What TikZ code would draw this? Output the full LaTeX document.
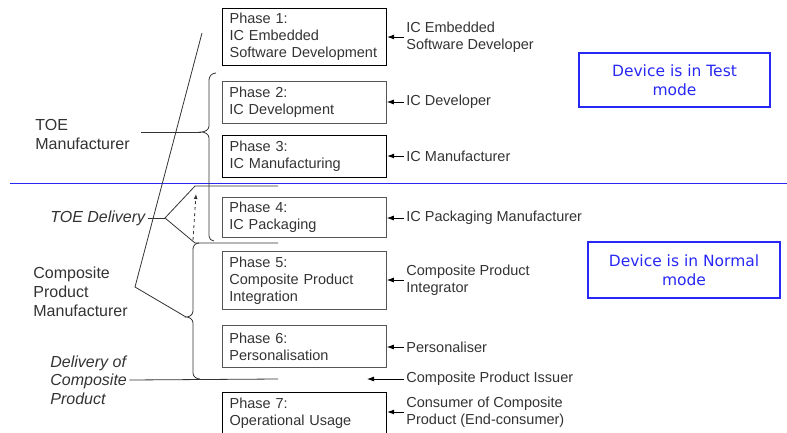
\documentclass[tikz,border=0pt]{standalone}
\usepackage{fontspec}
\setmainfont{Liberation Sans}
\newfontfamily\modefont{DejaVu Sans}
\usetikzlibrary{arrows.meta,positioning,calc}
\definecolor{cInk}{HTML}{333333}
\definecolor{cEdge}{HTML}{555555}
\definecolor{cMode}{HTML}{2828F5}
\tikzset{
  every picture/.style={line width=0.8pt},
  phase/.style={draw=cEdge, rectangle, anchor=north west, minimum width=164pt,
                text width=150pt, inner xsep=7pt, align=left,
                font=\fontsize{14.5}{17}\selectfont, text=cInk},
  phaseb/.style={phase, draw=black, line width=1.2pt},
  role/.style={anchor=west, align=left, inner sep=2pt,
               font=\fontsize{14.5}{17}\selectfont, text=cInk},
  lab/.style={anchor=west, align=left, inner sep=2pt,
              font=\fontsize{16}{19}\selectfont, text=cInk},
  ilab/.style={lab, font=\fontsize{16}{18.5}\selectfont\itshape},
  mode/.style={draw=cMode, line width=1.3pt, align=center, text=cMode,
               font=\modefont\fontsize{15.5}{19}\selectfont},
  arr/.style={-{Latex[length=7pt,width=5pt]}, draw=black},
  brc/.style={draw=cInk, line width=0.8pt},
}

\begin{document}
\begin{tikzpicture}[x=1pt,y=-1pt]
\useasboundingbox (0,0) rectangle (787,432);

% ------------------------------------------------------------ life-cycle phases
\node[phaseb, minimum height=57pt] (p1) at (222,8)   {Phase 1:\\IC Embedded\\Software Development};
\node[phase,  minimum height=42pt] (p2) at (222,81)  {Phase 2:\\IC Development};
\node[phaseb, minimum height=42pt] (p3) at (222,135) {Phase 3:\\IC Manufacturing};
\node[phase,  minimum height=40pt] (p4) at (222,197) {Phase 4:\\IC Packaging};
\node[phase,  minimum height=58pt] (p5) at (222,251) {Phase 5:\\Composite Product\\Integration};
\node[phase,  minimum height=42pt] (p6) at (222,325) {Phase 6:\\Personalisation};
\node[phaseb, minimum height=42pt] (p7) at (222,392) {Phase 7:\\Operational Usage};

% ------------------------------------------------------------ actors
\node[role] (r1) at (404,37)  {IC Embedded\\Software Developer};
\node[role] (r2) at (404,102) {IC Developer};
\node[role] (r3) at (404,156) {IC Manufacturer};
\node[role] (r4) at (404,218) {IC Packaging Manufacturer};
\node[role] (r5) at (404,280) {Composite Product\\Integrator};
\node[role] (r6) at (404,347) {Personaliser};
\node[role] (ri) at (404,379) {Composite Product Issuer};
\node[role] (r7) at (404,412) {Consumer of Composite\\Product (End-consumer)};

\foreach \i in {1,...,7}
  \draw[arr] (r\i.west) -- (r\i.west -| p\i.east);
\coordinate (iss) at (367,379);
\draw[arr] (ri.west) -- (iss);

% ------------------------------------------------------------ test / normal split
\draw[cMode, line width=1pt] (10,183) -- (787,183);
\node[mode, minimum width=191pt, minimum height=54pt] (mtest) at (674.5,80)
      {Device is in Test\\mode};
\node[mode, minimum width=192pt, minimum height=56pt] (mnorm) at (684,270)
      {Device is in Normal\\mode};

% ------------------------------------------------------------ who does what
\node[lab]  (toem) at (33,134) {TOE\\Manufacturer};
\node[ilab] (toed) at (48,218) {TOE Delivery};
\node[lab]  (cpm)  at (31,292) {Composite\\Product\\Manufacturer};
\node[ilab] (dcp)  at (48,380) {Delivery of\\Composite\\Product};

% brace over phases 2 to 4
\coordinate (tm) at (201,132);
\draw[brc] (216,73) to[out=180,in=90] (209,80) -- (209,126)
      to[out=-90,in=0] (tm) to[out=0,in=90] (209,138) -- (209,236)
      to[out=-90,in=180] (214,241);
\draw[brc] ([xshift=9pt]toem.east |- tm) -- (tm);

% brace over phases 5 and 6
\coordinate (cpt) at (186,317);
\draw[brc] (199,243) to[out=180,in=90] (193,249) -- (193,311)
      to[out=-90,in=0] (cpt) to[out=0,in=90] (193,323) -- (193,373)
      to[out=-90,in=180] (200,379);
\draw[brc] (202,33) -- (135,287) -- (cpt);

% the delivery points
\coordinate (tdj) at (165,218);
\draw[brc] (toed.east) -- (tdj);
\draw[brc] (278,186) -- (195,186) -- (tdj) -- (195,243) -- (278,243);
\draw[brc, dashed, -{Latex[length=5pt,width=4pt]}] (193,240) -- (196,194);

\coordinate (dce) at (278,379);
\draw[brc] (dcp.east) -- (dce);

\end{tikzpicture}
\end{document}
